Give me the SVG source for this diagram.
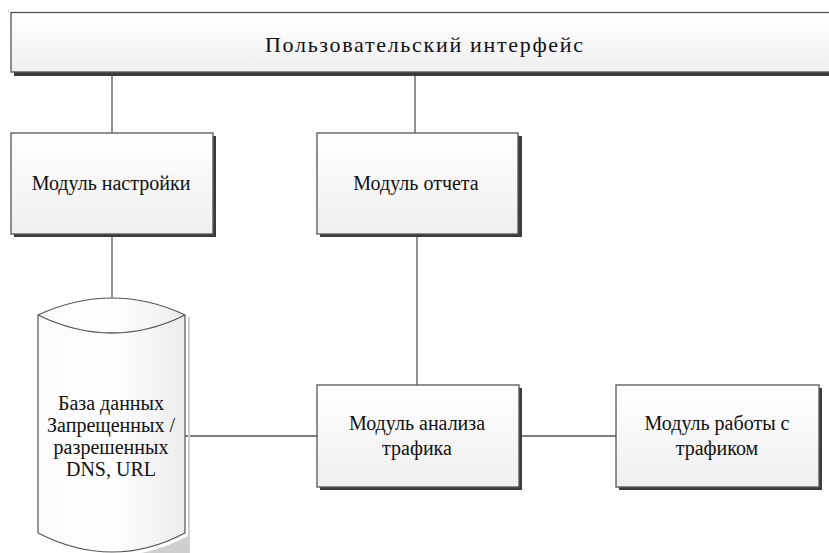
<svg xmlns="http://www.w3.org/2000/svg" width="829" height="553" viewBox="0 0 829 553">
<defs>
<linearGradient id="gv" x1="0" y1="0" x2="0" y2="1">
<stop offset="0" stop-color="#ffffff"/>
<stop offset="1" stop-color="#efefef"/>
</linearGradient>
<linearGradient id="gh" x1="0" y1="0" x2="1" y2="0">
<stop offset="0" stop-color="#fbfbfb"/>
<stop offset="0.5" stop-color="#ffffff"/>
<stop offset="1" stop-color="#ececec"/>
</linearGradient>
</defs>
<style>
.box{fill:url(#gv);stroke:#555;stroke-width:1.3}
.sh{fill:#3c3c3c}
.cyl{fill:url(#gh);stroke:#555;stroke-width:1.2}
.ln{stroke:#555;stroke-width:1.3;fill:none}
text{font-family:"Liberation Serif","Times New Roman",serif;fill:#111;text-anchor:middle}
.t{font-size:20px}
.tt{font-size:22px}
</style>
<rect x="0" y="0" width="829" height="553" fill="#fff"/>
<rect x="8" y="10.5" width="1" height="1" fill="#999"/>
<g id="connectors">
<line class="ln" x1="112" y1="72" x2="112" y2="133"/>
<line class="ln" x1="415" y1="72" x2="415" y2="133"/>
<line class="ln" x1="112" y1="235" x2="112" y2="298"/>
<line class="ln" x1="417" y1="235" x2="417" y2="385"/>
<line class="ln" x1="185" y1="436" x2="317" y2="436"/>
<line class="ln" x1="519" y1="436" x2="616" y2="436"/>
</g>
<g id="ui">
<rect class="sh" x="14" y="72" width="815" height="4"/>
<rect class="box" x="11" y="12.5" width="830" height="59.5"/>
<text class="tt" x="424" y="52" textLength="318" lengthAdjust="spacing">Пользовательский интерфейс</text>
</g>
<g id="settings">
<rect class="sh" x="14" y="136" width="202" height="101"/>
<rect class="box" x="11" y="133" width="202" height="101"/>
<text class="t" x="111" y="190">Модуль настройки</text>
</g>
<g id="report">
<rect class="sh" x="320" y="136" width="202" height="101"/>
<rect class="box" x="317" y="133" width="201" height="101"/>
<text class="t" x="416" y="190">Модуль отчета</text>
</g>
<g id="analysis">
<rect class="sh" x="320" y="388" width="202" height="102"/>
<rect class="box" x="317" y="385" width="202" height="102"/>
<text class="t" x="417" y="430">Модуль анализа</text>
<text class="t" x="417" y="455">трафика</text>
</g>
<g id="traffic">
<rect class="sh" x="619" y="388" width="203" height="102"/>
<rect class="box" x="616" y="385" width="203" height="102"/>
<text class="t" x="717" y="430">Модуль работы с</text>
<text class="t" x="717" y="455">трафиком</text>
</g>
<g id="db">
<path d="M188 317 L188 536 Q150 556 112 556 L112 560 L190 560 L190 317 Z" fill="#cfcfcf"/>
<path class="cyl" d="M38 315 Q75 298 112 298 Q149 298 185 315 L185 533 Q149 552 112 552 Q75 552 38 533 Z"/>
<path class="ln" d="M38 315 Q75 333 112 333 Q149 333 185 315"/>
<text class="t" x="111" y="410">База данных</text>
<text class="t" x="111" y="432">Запрещенных /</text>
<text class="t" x="111" y="454">разрешенных</text>
<text class="t" x="111" y="476">DNS, URL</text>
</g>
</svg>
